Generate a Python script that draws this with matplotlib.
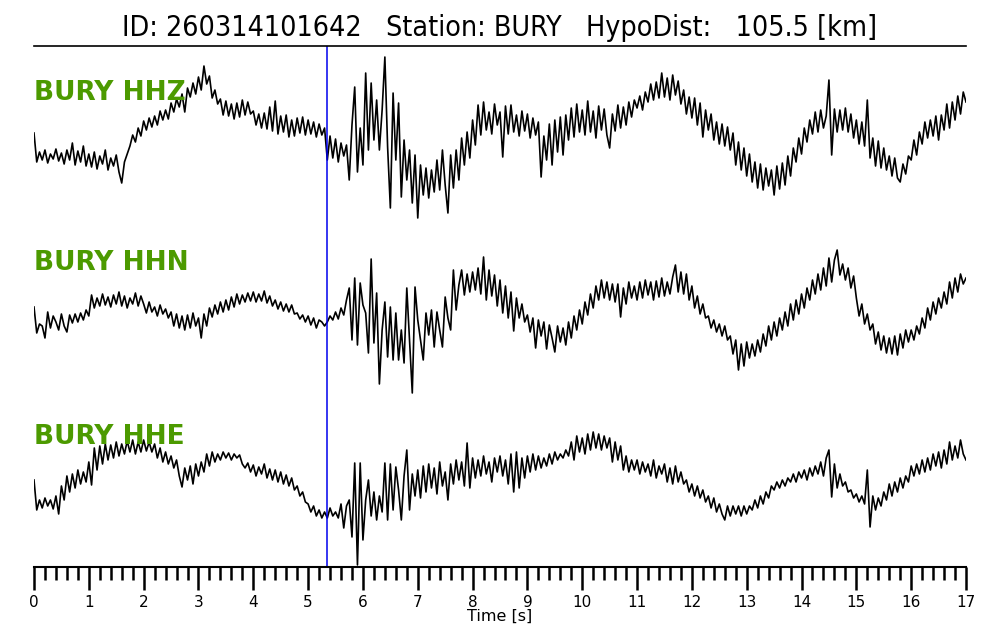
import numpy as np
import matplotlib
matplotlib.use("Agg")
import matplotlib.pyplot as plt

# header info
event_id = "260314101642"
station = "BURY"
hypo_dist = 105.5
pick_time = 5.35  # s, blue marker

channels = ["BURY HHZ", "BURY HHN", "BURY HHE"]

# traces, one value every 0.05 s from 0 to 17 s
hhz = [
    0.7, -2.2, -1.2, -2.0, -1.0, -2.3, -1.4, -1.9, -0.9, -2.1, -1.3, -2.4, -1.0, -2.0, -0.3, -2.5, -1.1, -2.2, -0.6, -2.6,
    -1.4, -2.7, -1.2, -2.9, -1.6, -2.4, -1.0, -3.0, -1.8, -2.6, -1.5, -3.2, -4.3, -2.2, -1.4, -0.6, 0.5, -0.2, 1.2, 0.4,
    1.9, 1.0, 2.2, 1.3, 2.4, 1.5, 2.9, 2.0, 3.0, 2.1, 3.7, 2.8, 4.1, 3.3, 4.6, 2.8, 5.2, 4.3, 5.7, 4.6,
    6.3, 5.0, 7.4, 5.6, 6.4, 4.2, 5.0, 3.6, 4.1, 2.5, 3.9, 2.4, 3.6, 2.1, 3.7, 2.3, 4.0, 2.5, 3.8, 2.6,
    2.9, 1.5, 2.6, 1.2, 2.7, 1.1, 3.3, 0.9, 3.9, 0.6, 2.4, 0.8, 2.5, 0.3, 2.0, 0.4, 2.2, 0.7, 2.3, 0.5,
    2.0, 0.6, 1.8, 0.3, 1.6, 0.5, 1.2, -2.0, 0.4, -1.8, 0.1, -2.2, -0.3, -1.6, -0.5, -4.0, 1.5, 5.3, -3.2, 1.2,
    -2.5, 6.7, -1.0, 5.7, 0.0, 4.0, -1.0, 3.0, 8.3, -0.7, -6.8, 4.7, -2.0, 3.7, -5.7, 0.0, -4.0, -1.0, -6.3, -1.5,
    -7.8, -2.5, -5.5, -2.8, -5.8, -3.0, -5.2, -2.0, -5.0, -1.0, -4.5, -7.3, -1.5, -4.8, -1.0, -4.0, 0.2, -2.5, 0.8, -1.8,
    2.0, -0.5, 3.5, 0.5, 3.8, 1.0, 2.8, 0.6, 3.6, 1.5, 2.8, -1.7, 3.4, 0.6, 3.5, 0.8, 2.5, 0.4, 2.9, 0.9,
    2.6, 0.2, 2.2, 0.5, 1.8, -3.7, 0.4, -2.0, 1.6, -2.5, 2.0, -1.2, 2.3, -1.5, 2.5, 0.0, 3.2, 0.3, 3.6, 0.8,
    3.0, 0.5, 3.9, 0.8, 2.9, 0.2, 3.4, 1.0, 3.1, 0.5, -0.8, 2.6, 0.9, 3.5, 1.2, 3.3, 1.5, 3.8, 2.3, 4.0,
    3.2, 4.4, 3.0, 4.8, 3.8, 5.6, 4.0, 5.8, 4.2, 6.7, 4.3, 6.2, 4.0, 6.5, 4.5, 5.9, 3.6, 5.0, 2.6, 4.3,
    2.2, 4.2, 1.5, 3.7, 0.3, 3.0, 1.0, 2.6, 0.0, 1.8, -0.4, 1.6, -0.6, 1.3, -1.0, 0.7, -2.5, -0.2, -3.0, -0.8,
    -3.6, -1.4, -4.2, -2.2, -4.8, -2.4, -5.0, -2.8, -4.6, -3.0, -5.5, -2.6, -4.9, -2.3, -4.5, -1.6, -3.6, -0.8, -2.2, 0.2,
    -1.4, 1.2, -0.2, 2.0, 0.6, 2.8, 0.8, 3.0, 1.2, 2.4, 6.0, -1.5, 3.1, 0.8, 3.0, 1.0, 3.2, 0.8, 2.6, 0.2,
    2.0, -0.4, 1.8, -0.6, 4.0, -1.8, 0.2, -2.6, -0.1, -2.8, -0.8, -3.0, -1.6, -3.6, -1.8, -3.8, -4.2, -2.4, -3.4, -1.6,
    -2.0, 0.0, -1.5, 0.8, -0.4, 1.8, 0.2, 2.0, 0.4, 2.4, 0.0, 2.5, 1.0, 3.6, 1.2, 3.8, 2.0, 4.4, 2.6, 4.8, 3.8,
]
hhn = [
    0.3, -2.3, -1.4, -1.6, -2.8, -0.2, -1.8, -0.6, -1.2, -2.0, -0.4, -1.6, -2.2, -0.5, -1.3, -0.4, -1.2, -0.3, -1.0, 0.0,
    -0.6, 1.5, 0.2, 1.2, 0.4, 1.6, 0.5, 1.3, 0.3, 1.5, 0.6, 1.8, 0.4, 1.4, 0.2, 1.2, 0.6, 1.7, 0.4, 1.4,
    0.6, -0.3, 0.8, -0.2, 0.3, -0.6, 0.5, -0.4, 0.1, -0.8, -0.2, -1.6, -0.4, -1.8, -0.6, -2.0, -0.5, -1.8, -0.3, -1.6,
    -0.8, -2.8, -0.4, -1.6, 0.2, -0.7, 0.5, -0.4, 0.8, -0.2, 1.0, 0.0, 1.3, 0.3, 1.6, 0.6, 1.5, 0.8, 1.7, 0.9,
    1.8, 0.8, 1.6, 0.9, 1.9, 0.7, 1.4, 0.4, 1.0, 0.1, 0.8, -0.1, 0.6, -0.2, 0.5, -0.4, -0.3, -0.9, -0.5, -1.2,
    -0.6, -1.5, -0.8, -1.8, -1.0, -1.2, -1.6, -1.2, -0.6, -1.0, -0.2, -0.9, 0.2, -0.5, 1.0, 2.2, -3.0, 3.2, -3.5, 2.7,
    0.5, -0.3, -4.3, 5.1, -3.3, 1.7, -7.4, -2.0, 0.8, -4.7, 0.3, -5.0, -0.3, -5.0, -2.0, -5.3, 2.2, -3.0, -8.3, 2.3,
    -1.0, -3.0, -5.0, -0.3, -2.5, 0.0, -3.7, -0.2, -2.0, -3.7, 1.3, -0.8, -2.0, 4.0, 0.0, 2.5, 4.0, 1.5, 3.6, 1.8,
    3.8, 2.0, 4.2, 1.6, 5.3, 1.0, 4.0, 1.4, 3.5, 0.4, 3.0, -0.3, 2.4, -0.8, 1.8, -2.1, 1.2, -0.8, 0.6, -1.2,
    -0.5, -2.2, -0.8, -3.8, -1.0, -2.6, -1.2, -3.9, -1.5, -2.8, -4.2, -1.6, -3.2, -1.8, -3.5, -1.2, -2.8, -0.6, -2.0, 0.0,
    -1.4, 0.8, -0.5, 1.6, 0.2, 2.4, 1.0, 3.0, 1.2, 2.8, 1.0, 2.6, 0.8, 2.6, -0.7, 2.2, 0.6, 2.8, 1.2, 2.4,
    1.0, 2.8, 1.2, 3.0, 1.5, 2.8, 1.0, 2.9, 1.3, 3.2, 1.4, 2.8, 1.6, 3.3, 4.5, 1.8, 3.8, 1.6, 3.6, 1.0,
    2.4, 0.2, 1.4, -0.4, 0.6, -0.8, -0.6, -1.8, -1.0, -2.2, -1.4, -2.6, -1.6, -3.0, -2.6, -4.4, -3.0, -6.0, -3.4, -5.6,
    -3.2, -4.8, -3.4, -4.6, -3.0, -4.2, -2.4, -3.6, -1.6, -3.0, -1.2, -2.6, -0.8, -2.0, -0.2, -1.6, 0.6, -1.0, 1.0, -0.4,
    1.6, 0.2, 2.2, 1.0, 3.0, 1.6, 3.6, 2.0, 4.2, 2.4, 5.2, 2.8, 5.0, 6.0, 3.5, 4.6, 3.0, 4.2, 2.2, 3.4,
    1.2, -0.6, 0.6, -1.4, -0.4, -2.0, -1.4, -3.4, -2.2, -4.0, -2.6, -4.3, -2.8, -4.4, -2.6, -4.5, -2.4, -3.8, -2.0, -3.2,
    -2.0, -3.0, -1.6, -2.4, -0.8, -1.8, 0.2, -1.0, 0.8, -0.4, 1.2, 0.2, 1.8, 0.6, 2.8, 1.2, 3.2, 1.8, 3.6, 2.6, 3.2,
]
hhe = [
    0.0, -3.0, -2.0, -2.8, -1.8, -2.6, -2.0, -2.9, -1.6, -3.4, -0.6, -2.0, 0.4, -1.2, 0.6, -0.8, 1.0, -0.4, 0.8, -0.2,
    1.8, -0.5, 3.2, 1.0, 3.4, 1.6, 3.6, 2.0, 3.5, 2.2, 3.8, 2.4, 3.6, 2.6, 3.9, 2.8, 4.0, 2.6, 3.8, 2.8,
    4.0, 2.9, 3.8, 2.8, 3.6, 2.2, 3.2, 1.8, 2.8, 1.6, 2.4, 1.2, 2.0, 0.4, -0.7, 1.2, 0.0, 1.4, -0.4, 1.6,
    0.4, 1.8, 0.8, 2.6, 1.4, 2.8, 1.8, 2.6, 2.0, 2.8, 2.2, 2.7, 2.0, 2.6, 2.2, 2.5, 1.6, 1.2, 1.7, 0.8,
    1.5, 0.4, 1.3, 0.6, 1.6, 0.2, 1.1, 0.0, 1.0, -0.2, 0.8, -0.4, 0.5, -0.6, 0.2, -1.0, -0.6, -1.6, -1.2, -2.2,
    -2.4, -3.2, -2.6, -3.6, -3.0, -3.8, -3.2, -3.8, -2.8, -3.6, -3.2, -3.8, -2.4, -4.8, -2.6, -2.0, -5.7, 1.7, -8.5, 1.7,
    -6.0, -2.0, 0.0, -3.6, -1.2, -4.0, -1.6, -3.2, 1.7, -4.0, 1.6, -3.0, 1.3, -1.0, -4.0, 0.4, 3.0, -3.0, 0.6, -1.6,
    1.0, -1.8, 1.4, -1.2, 1.6, -0.8, 1.2, -1.4, 1.8, -0.6, 0.8, -2.0, 1.6, -0.4, 2.0, 0.0, 1.8, -0.6, 3.7, -0.8,
    2.2, 0.2, 2.0, 0.4, 2.4, 0.6, 1.8, -0.2, 2.2, 0.8, 2.4, 0.4, 2.0, -0.4, 2.6, -1.2, 2.8, -0.8, 2.2, 0.2,
    2.4, 0.8, 2.6, 1.0, 2.4, 1.2, 2.2, 1.4, 2.6, 1.6, 2.8, 2.0, 2.6, 2.2, 3.0, 2.4, 3.8, 2.0, 4.4, 2.8,
    4.2, 2.6, 4.6, 3.0, 4.8, 3.2, 4.6, 3.0, 4.4, 3.2, 4.2, 1.8, 3.8, 2.0, 3.4, 1.0, 2.4, 0.8, 2.0, 1.0,
    2.0, 0.6, 1.8, 0.8, 1.6, 0.4, 2.0, 0.2, 1.4, 0.6, 1.6, -0.2, 1.2, -0.4, 1.4, -0.2, 0.8, -0.4, 0.0, -1.2,
    -0.4, -1.6, -0.6, -1.8, -1.0, -2.2, -1.6, -2.8, -1.8, -3.2, -2.4, -3.4, -4.0, -2.6, -3.6, -2.6, -3.4, -2.6, -3.6, -2.6,
    -3.4, -2.6, -3.0, -2.0, -2.8, -1.6, -2.4, -1.2, -1.8, -0.6, -1.0, -0.2, -0.8, 0.0, -0.6, 0.2, -0.2, 0.6, -0.2, 0.8,
    0.2, 1.0, 0.0, 1.2, 0.4, 1.4, 0.6, 1.8, 0.4, 2.2, 3.0, -1.7, 1.6, -0.8, 0.6, -0.6, -0.2, -1.2, -1.0, -1.8,
    -1.4, -2.2, -1.6, -2.4, 1.0, -4.7, -1.6, -3.0, -1.8, -2.6, -1.2, -2.0, -0.4, -1.6, -0.2, -1.2, 0.2, -0.8, 0.4, -0.2,
    1.4, 0.4, 1.6, 0.6, 2.0, 0.8, 2.2, 1.0, 2.6, 1.4, 2.8, 1.2, 3.0, 1.6, 3.8, 2.0, 3.4, 2.2, 4.0, 2.6, 2.0,
]

traces = [hhz, hhn, hhe]
offsets = [34, 17, 0]
label_dy = [4.7, 4.7, 4.3]

fig = plt.figure(figsize=(10, 6.4), dpi=100)
ax = fig.add_axes([0.034, 0.1141, 0.932, 0.814])

for name, tr, off, dy in zip(channels, traces, offsets, label_dy):
    t = np.linspace(0, 17, len(tr))
    ax.plot(t, np.array(tr) + off, color="black", lw=1.2)
    ax.text(0, off + dy, name, color="#4c9a00", fontsize=19, fontweight="bold",
            ha="left", va="center")

ax.axvline(pick_time, color="#0000ee", lw=1.1)

ax.set_xlim(0, 17)
ax.set_ylim(-8.7, 43.4)

ax.spines["left"].set_visible(False)
ax.spines["right"].set_visible(False)
ax.spines["top"].set_linewidth(1.2)
ax.spines["bottom"].set_linewidth(1.5)
ax.set_yticks([])
ax.set_xticks(np.arange(0, 18, 1))
ax.set_xticks(np.arange(0, 17.01, 0.2), minor=True)
ax.tick_params(axis="x", which="major", length=16.5, width=1.8, labelsize=11, pad=4)
ax.tick_params(axis="x", which="minor", length=9.5, width=1.8)
ax.set_xlabel("Time [s]", fontsize=11.5, labelpad=-1)

ax.set_title(f"ID: {event_id}   Station: {station}   HypoDist:   {hypo_dist} [km]",
             fontsize=20.5, fontstretch="condensed", pad=7)

fig.savefig("out.png", dpi=100)
